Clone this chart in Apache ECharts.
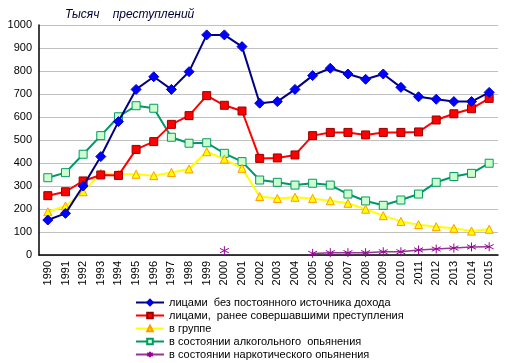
<!DOCTYPE html>
<html><head><meta charset="utf-8">
<script src="https://cdn.jsdelivr.net/npm/echarts@6/dist/echarts.min.js"></script>
<style>html,body{margin:0;padding:0;background:#fff}#c{width:512px;height:363px}</style>
</head><body><div id="c"></div>
<script>
const years = ['1990','1991','1992','1993','1994','1995','1996','1997','1998','1999','2000','2001','2002','2003','2004','2005','2006','2007','2008','2009','2010','2011','2012','2013','2014','2015'];
const noIncome = [152,181,300,428,580,720,775,720,797,957,957,906,660,667,720,780,812,787,764,787,729,688,677,667,667,707];
const repeat = [258,275,322,348,346,459,493,568,606,693,651,626,420,422,435,519,533,533,522,533,533,535,587,614,636,681];
const group = [188,213,275,355,351,351,345,359,374,449,417,377,254,246,251,246,236,225,199,171,146,132,123,116,104,112];
const alcohol = [336,358,438,519,601,649,638,512,486,488,442,406,326,316,304,312,304,265,235,216,239,265,316,341,355,399];
const drugs = [null,null,null,null,null,null,null,null,null,null,19,null,null,null,null,7,10,10,10,14,14,22,26,30,35,36];
const yTicks = [0,100,200,300,400,500,600,700,800,900,1000];
const names = ['лицами  без постоянного источника дохода','лицами,  ранее совершавшими преступления','в группе','в состоянии алкогольного  опьянения','в состоянии наркотического опьянения'];

const star = 'path://M5,0 L5,10 M0.7,2.5 L9.3,7.5 M9.3,2.5 L0.7,7.5';
const chart = echarts.init(document.getElementById('c'));
chart.setOption({
  animation:false,
  textStyle:{fontFamily:'Liberation Sans, Arial, sans-serif'},
  title:{text:'Тысяч    преступлений',left:60,top:4,textStyle:{fontSize:12,fontStyle:'italic',fontWeight:'normal',color:'#000033'}},
  grid:{left:39,right:14,top:25,bottom:108},
  legend:{orient:'vertical',left:135,top:296,height:200,itemWidth:28,itemHeight:7,itemGap:0,padding:0,
    textStyle:{fontSize:11,color:'#000',lineHeight:13,height:13},
    data:names},
  xAxis:{type:'category',data:years,boundaryGap:true,
    axisLine:{lineStyle:{color:'#000',width:1.5}},axisTick:{show:false},
    axisLabel:{rotate:90,fontSize:11,color:'#000',margin:6,interval:0}},
  yAxis:{type:'value',min:0,max:1000,interval:100,
    axisLine:{show:true,lineStyle:{color:'#000',width:1.5}},axisTick:{show:false},
    splitLine:{lineStyle:{color:'#c0c0c0',width:1}},
    axisLabel:{fontSize:11,color:'#000',margin:7,formatter:v=>String(v)}},
  series:[
    {name:names[0],type:'line',data:noIncome,symbol:'diamond',symbolSize:10,
     lineStyle:{color:'#000080',width:2},itemStyle:{color:'#0000FF',borderColor:'#0000CC',borderWidth:1},z:5},
    {name:names[1],type:'line',data:repeat,symbol:'rect',symbolSize:8,
     lineStyle:{color:'#FF0000',width:2},itemStyle:{color:'#FF0000',borderColor:'#990000',borderWidth:1},z:4},
    {name:names[2],type:'line',data:group,symbol:'triangle',symbolSize:8,
     lineStyle:{color:'#FFFF00',width:2},itemStyle:{color:'#FFFF00',borderColor:'#FF9900',borderWidth:1},z:3},
    {name:names[3],type:'line',data:alcohol,symbol:'rect',symbolSize:8,
     lineStyle:{color:'#009966',width:2},itemStyle:{color:'#CCFFCC',borderColor:'#009966',borderWidth:1},z:2},
    {name:names[4],type:'line',data:drugs,symbol:star,symbolSize:9,connectNulls:false,
     lineStyle:{color:'#993399',width:1.5},itemStyle:{color:'none',borderColor:'#990099',borderWidth:1},z:1}
  ]
});
</script></body></html>
